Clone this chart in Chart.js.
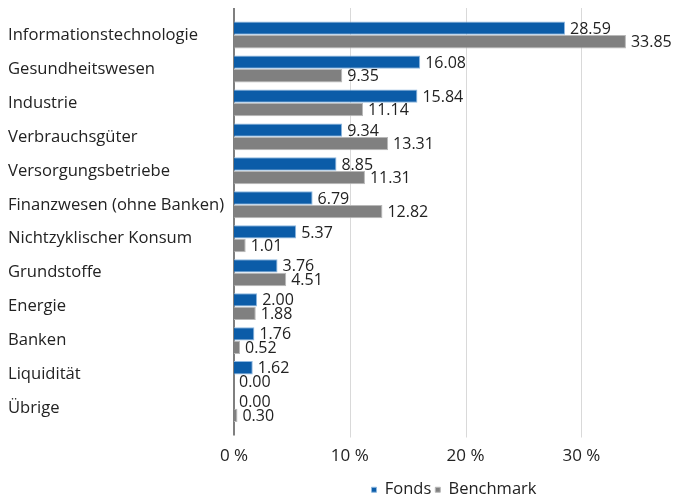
<!DOCTYPE html>
<html>
<head>
<meta charset="utf-8">
<script src="https://cdn.jsdelivr.net/npm/chart.js@4/dist/chart.umd.min.js"></script>
<style>
  html, body { margin: 0; padding: 0; background: #fff; }
  #wrap { width: 675px; height: 495px; }
</style>
</head>
<body>
<div id="wrap"><canvas id="c" width="675" height="495"></canvas></div>
<script>
// Sektorgewichtung Fonds vs. Benchmark
const categories = ['Informationstechnologie', 'Gesundheitswesen', 'Industrie', 'Verbrauchsgüter',
  'Versorgungsbetriebe', 'Finanzwesen (ohne Banken)', 'Nichtzyklischer Konsum', 'Grundstoffe',
  'Energie', 'Banken', 'Liquidität', 'Übrige'];
const fonds = [28.59, 16.08, 15.84, 9.34, 8.85, 6.79, 5.37, 3.76, 2.00, 1.76, 1.62, 0.00];
const benchmark = [33.85, 9.35, 11.14, 13.31, 11.31, 12.82, 1.01, 4.51, 1.88, 0.52, 0.00, 0.30];
const xTicks = [0, 10, 20, 30];

const FONT = "'Open Sans', 'Noto Sans', sans-serif";

// Werte rechts neben die Balken schreiben
const valueLabels = {
  id: 'valueLabels',
  afterDatasetsDraw(chart) {
    const ctx = chart.ctx;
    ctx.save();
    ctx.font = '16px ' + FONT;
    ctx.fillStyle = '#222';
    ctx.textBaseline = 'middle';
    ctx.textAlign = 'left';
    chart.data.datasets.forEach((ds, i) => {
      chart.getDatasetMeta(i).data.forEach((bar, j) => {
        ctx.fillText(ds.data[j].toFixed(2), bar.x + 5, bar.y + 1);
      });
    });
    ctx.restore();
  }
};

// Gitterlinien wie im Original etwas über den Plotbereich hinaus
const gridLines = {
  id: 'gridLines',
  beforeDatasetsDraw(chart) {
    const ctx = chart.ctx, x = chart.scales.x, area = chart.chartArea;
    ctx.save();
    xTicks.forEach(v => {
      const px = Math.round(x.getPixelForValue(v));
      ctx.beginPath();
      if (v === 0) {
        ctx.strokeStyle = '#7f7f7f';
        ctx.lineWidth = 2;
        ctx.moveTo(px, area.top - 10);
        ctx.lineTo(px, area.bottom + 10);
      } else {
        ctx.strokeStyle = '#d9d9d9';
        ctx.lineWidth = 1;
        ctx.moveTo(px + 0.5, area.top - 10);
        ctx.lineTo(px + 0.5, area.bottom + 12);
      }
      ctx.stroke();
    });
    ctx.restore();
  }
};

new Chart(document.getElementById('c'), {
  type: 'bar',
  data: {
    labels: categories,
    datasets: [
      { label: 'Fonds', data: fonds, backgroundColor: '#0b5ca8', borderColor: '#8fb8e0', borderWidth: 1,
        categoryPercentage: 0.8, barPercentage: 0.98 },
      { label: 'Benchmark', data: benchmark, backgroundColor: '#808080', borderColor: '#b8b8b8', borderWidth: 1,
        categoryPercentage: 0.8, barPercentage: 0.98 }
    ]
  },
  options: {
    indexAxis: 'y',
    responsive: false,
    animation: false,
    layout: { padding: { left: 8, right: 1, top: 18, bottom: -13 } },
    plugins: {
      legend: {
        position: 'bottom',
        fullSize: false,
        labels: {
          font: { family: FONT, size: 16.5 },
          color: '#222',
          boxWidth: 5,
          boxHeight: 5,
          padding: 4
        }
      },
      tooltip: { enabled: false }
    },
    scales: {
      x: {
        min: 0,
        max: 38,
        afterBuildTicks: s => { s.ticks = xTicks.map(v => ({ value: v })); },
        afterFit: s => { s.height = 52; },
        grid: { display: false },
        border: { display: false },
        ticks: {
          font: { family: FONT, size: 17 },
          color: '#222',
          padding: 12,
          callback: v => v + ' %'
        }
      },
      y: {
        grid: { display: false },
        border: { display: false },
        afterFit: s => { s.width = 226; },
        ticks: {
          crossAlign: 'far',
          font: { family: FONT, size: 16.6 },
          color: '#222',
          padding: 6
        }
      }
    }
  },
  plugins: [gridLines, valueLabels]
});
</script>
</body>
</html>
